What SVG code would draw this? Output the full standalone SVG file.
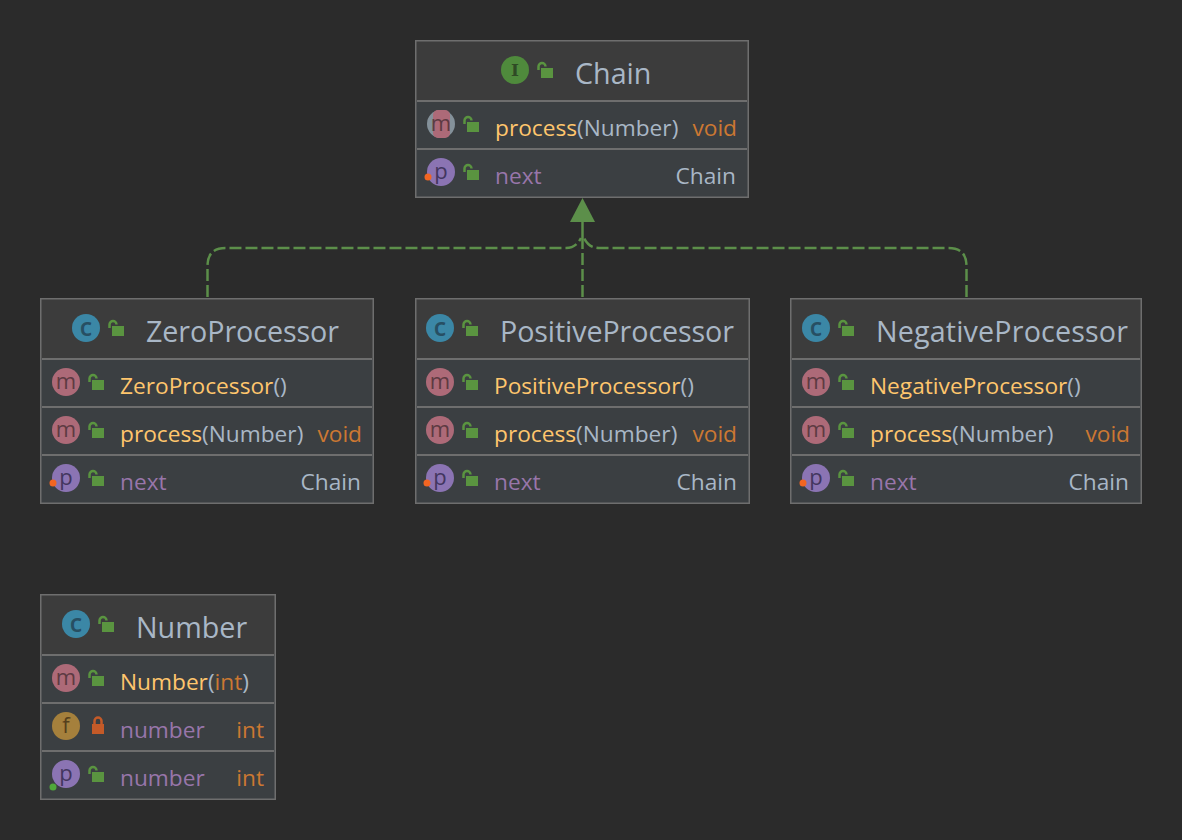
<svg xmlns="http://www.w3.org/2000/svg" width="1182" height="840" viewBox="0 0 1182 840">
<style>
text{font-family:"Open Sans","Noto Sans","Liberation Sans",sans-serif;font-size:22.7px}
.title{font-size:28.7px;fill:#a9b7c6}
.hd{fill:#3c3c3c}.bd{fill:#3b3f42}
.fr{fill:none;stroke:#6e6e6e;stroke-width:1.5}
.sep{stroke:#6e6e6e;stroke-width:2}
.y{fill:#ffc66d}.g{fill:#a9b7c6}.o{fill:#cc7832}.v{fill:#9876aa}
.ic{font-size:22px;text-anchor:middle}
.tm{fill:#5d3a42}.tp{fill:#43365f}.tc{fill:#274f63;font-size:25px;font-weight:600}.tf{fill:#553f1c}.ti{fill:#2f4a25}
.cm{fill:#ad6a78}.cp{fill:#8b74b3}.cc{fill:#3b87a6}.cf{fill:#a5803c}.ci{fill:#4f8a3c}
.edge{fill:none;stroke:#5c8f4a;stroke-width:2.500;stroke-dasharray:12 4}
</style>
<defs>
<g id="open"><rect x="-2" y="3" width="12" height="10" fill="#5a9440"/><path d="M-4.500 5V1.500a3.500 3.500 0 0 1 7 0" fill="none" stroke="#5a9440" stroke-width="2.500"/></g>
<g id="lock"><rect x="-6" y="3" width="12" height="10" fill="#c45a28"/><path d="M-3.500 3V0a3.500 3.500 0 0 1 7 0V3" fill="none" stroke="#c45a28" stroke-width="2.500"/></g>
</defs>
<rect width="1182" height="840" fill="#2b2b2b"/>
<g id="connectors">
<path class="edge" d="M207.500 297V266Q207.500 248 225.500 248H566Q576 248 581 238"/>
<path class="edge" d="M966.500 297V266Q966.500 248 948.500 248H599Q589 248 584 238"/>
<path class="edge" d="M582.500 297V242"/>
<path d="M582.500 222V242" fill="none" stroke="#5c8f4a" stroke-width="2.500"/>
<path d="M582.500 198L570 222H595Z" fill="#5c8f4a"/>
</g>
<g id="chain">
<rect class="hd" x="416" y="41" width="332" height="60"/><rect class="bd" x="416" y="101" width="332" height="96"/>
<rect class="fr" x="415.750" y="40.750" width="332.500" height="156.500"/>
<path class="sep" d="M417 101H747M417 149H747"/>
<circle class="ci" cx="515" cy="70" r="14"/><text class="ic ti" style="font-family:'DejaVu Serif',serif;font-size:17px;font-weight:bold" x="515" y="76">I</text>
<use href="#open" x="543" y="65"/>
<text class="title" x="575" y="84">Chain</text>
<circle cx="441" cy="124" r="14" fill="#84919a"/><rect class="cm" x="433" y="110" width="17" height="28" rx="5"/><text class="ic tm" x="441" y="131">m</text>
<use href="#open" x="469" y="119"/>
<text x="495" y="136"><tspan class="y">process</tspan><tspan class="g">(Number)</tspan></text>
<text class="o" x="737" y="136" text-anchor="end">void</text>
<circle class="cp" cx="441" cy="172" r="14"/><text class="ic tp" x="441" y="179">p</text><circle cx="428" cy="177" r="3.500" fill="#f26522"/>
<use href="#open" x="469" y="167"/>
<text class="v" x="495" y="184">next</text><text class="g" x="736" y="184" text-anchor="end">Chain</text>
</g>
<g id="zero">
<rect class="hd" x="41" y="299" width="332" height="60"/><rect class="bd" x="41" y="359" width="332" height="144"/>
<rect class="fr" x="40.750" y="298.750" width="332.500" height="204.500"/>
<path class="sep" d="M42 359H372M42 407H372M42 455H372"/>
<circle class="cc" cx="86" cy="328" r="14"/><text class="ic tc" x="86" y="336">c</text>
<use href="#open" x="114" y="323"/>
<text class="title" x="146" y="342" textLength="193">ZeroProcessor</text>
<circle class="cm" cx="66" cy="382" r="14"/><text class="ic tm" x="66" y="389">m</text><use href="#open" x="94" y="377"/>
<text class="y" x="120" y="394">ZeroProcessor<tspan class="g">()</tspan></text>
<circle class="cm" cx="66" cy="430" r="14"/><text class="ic tm" x="66" y="437">m</text><use href="#open" x="94" y="425"/>
<text x="120" y="442"><tspan class="y">process</tspan><tspan class="g">(Number)</tspan></text><text class="o" x="362" y="442" text-anchor="end">void</text>
<circle class="cp" cx="66" cy="478" r="14"/><text class="ic tp" x="66" y="485">p</text><circle cx="53" cy="483" r="3.500" fill="#f26522"/><use href="#open" x="94" y="473"/>
<text class="v" x="120" y="490">next</text><text class="g" x="361" y="490" text-anchor="end">Chain</text>
</g>
<g id="positive">
<rect class="hd" x="416" y="299" width="333" height="60"/><rect class="bd" x="416" y="359" width="333" height="144"/>
<rect class="fr" x="415.750" y="298.750" width="333.500" height="204.500"/>
<path class="sep" d="M417 359H748M417 407H748M417 455H748"/>
<circle class="cc" cx="440" cy="328" r="14"/><text class="ic tc" x="440" y="336">c</text>
<use href="#open" x="468" y="323"/>
<text class="title" x="500" y="342" textLength="234">PositiveProcessor</text>
<circle class="cm" cx="440" cy="382" r="14"/><text class="ic tm" x="440" y="389">m</text><use href="#open" x="468" y="377"/>
<text class="y" x="494" y="394">PositiveProcessor<tspan class="g">()</tspan></text>
<circle class="cm" cx="440" cy="430" r="14"/><text class="ic tm" x="440" y="437">m</text><use href="#open" x="468" y="425"/>
<text x="494" y="442"><tspan class="y">process</tspan><tspan class="g">(Number)</tspan></text><text class="o" x="737" y="442" text-anchor="end">void</text>
<circle class="cp" cx="440" cy="478" r="14"/><text class="ic tp" x="440" y="485">p</text><circle cx="427" cy="483" r="3.500" fill="#f26522"/><use href="#open" x="468" y="473"/>
<text class="v" x="494" y="490">next</text><text class="g" x="737" y="490" text-anchor="end">Chain</text>
</g>
<g id="negative">
<rect class="hd" x="791" y="299" width="350" height="60"/><rect class="bd" x="791" y="359" width="350" height="144"/>
<rect class="fr" x="790.750" y="298.750" width="350.500" height="204.500"/>
<path class="sep" d="M792 359H1140M792 407H1140M792 455H1140"/>
<circle class="cc" cx="816" cy="328" r="14"/><text class="ic tc" x="816" y="336">c</text>
<use href="#open" x="844" y="323"/>
<text class="title" x="876" y="342" textLength="252">NegativeProcessor</text>
<circle class="cm" cx="816" cy="382" r="14"/><text class="ic tm" x="816" y="389">m</text><use href="#open" x="844" y="377"/>
<text class="y" x="870" y="394">NegativeProcessor<tspan class="g">()</tspan></text>
<circle class="cm" cx="816" cy="430" r="14"/><text class="ic tm" x="816" y="437">m</text><use href="#open" x="844" y="425"/>
<text x="870" y="442"><tspan class="y">process</tspan><tspan class="g">(Number)</tspan></text><text class="o" x="1130" y="442" text-anchor="end">void</text>
<circle class="cp" cx="816" cy="478" r="14"/><text class="ic tp" x="816" y="485">p</text><circle cx="803" cy="483" r="3.500" fill="#f26522"/><use href="#open" x="844" y="473"/>
<text class="v" x="870" y="490">next</text><text class="g" x="1129" y="490" text-anchor="end">Chain</text>
</g>
<g id="number">
<rect class="hd" x="41" y="595" width="234" height="60"/><rect class="bd" x="41" y="655" width="234" height="144"/>
<rect class="fr" x="40.750" y="594.750" width="234.500" height="204.500"/>
<path class="sep" d="M42 655H274M42 703H274M42 751H274"/>
<circle class="cc" cx="76" cy="624" r="14"/><text class="ic tc" x="76" y="632">c</text>
<use href="#open" x="104" y="619"/>
<text class="title" x="136" y="638">Number</text>
<circle class="cm" cx="66" cy="678" r="14"/><text class="ic tm" x="66" y="685">m</text><use href="#open" x="94" y="673"/>
<text class="y" x="120" y="690">Number<tspan class="g">(</tspan><tspan class="o">int</tspan><tspan class="g">)</tspan></text>
<circle class="cf" cx="66" cy="726" r="14"/><text class="ic tf" x="66" y="733">f</text><use href="#lock" x="98" y="721"/>
<text class="v" x="120" y="738">number</text><text class="o" x="264" y="738" text-anchor="end">int</text>
<circle class="cp" cx="66" cy="774" r="14"/><text class="ic tp" x="66" y="781">p</text><circle cx="53" cy="787" r="3.500" fill="#4fa83a"/><use href="#open" x="94" y="769"/>
<text class="v" x="120" y="786">number</text><text class="o" x="264" y="786" text-anchor="end">int</text>
</g>
</svg>
